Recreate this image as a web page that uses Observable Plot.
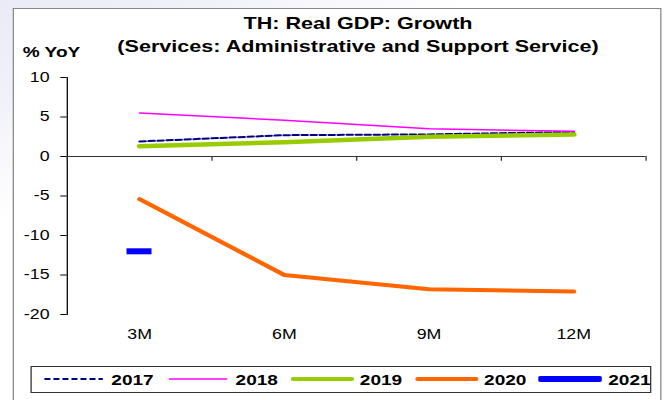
<!DOCTYPE html>
<html><head><meta charset="utf-8">
<script src="https://cdn.jsdelivr.net/npm/d3@7"></script>
<script src="https://cdn.jsdelivr.net/npm/@observablehq/plot@0.6"></script>
<style>
html,body{margin:0;padding:0;overflow:hidden;width:664px;height:400px}
body{background:linear-gradient(155deg,#ebebf7 0px,#f1f1fa 90px,#ffffff 200px)}
#wrap{position:absolute;left:0;top:0;width:523px;height:400px;transform:scaleX(1.2696);transform-origin:0 0;font-family:"Liberation Sans",Arial,sans-serif;color:#000}
#frame{position:absolute;left:10.2px;top:8px;width:511.2px;height:400px;border:1px solid #888;box-sizing:border-box;background:#fff}
#title{position:absolute;left:0;top:12.8px;width:564px;text-align:center;font-weight:bold;font-size:17px;line-height:22.7px;white-space:nowrap}
#ylab{position:absolute;left:17.9px;top:44.3px;font-weight:bold;font-size:15px;line-height:15px;white-space:nowrap}
#chart{position:absolute;left:0;top:60px}
#legend{position:absolute;left:23.6px;top:366px;width:489px;height:26.5px;border:1px solid #333;box-sizing:border-box;display:flex;align-items:center;padding-left:8.4px;font-weight:bold;font-size:15px;background:#fff}
.item{display:flex;align-items:center;margin-right:9.8px}
.item svg{display:block;margin-right:4.7px}
</style>
</head><body>
<div id="wrap">
  <div id="frame"></div>
  <div id="title">TH: Real GDP: Growth<br>(Services: Administrative and Support Service)</div>
  <div id="ylab">% YoY</div>
  <div id="chart"></div>
  <div id="legend"></div>
</div>
<script>
const cats = ["3M", "6M", "9M", "12M"];
const years = ["2017", "2018", "2019", "2020", "2021"];
const v2017 = [1.9, 2.7, 2.8, 3.1];
const v2018 = [5.5, 4.6, 3.5, 3.2];
const v2019 = [1.3, 1.8, 2.5, 2.8];
const v2020 = [-5.4, -15.0, -16.8, -17.1];
const v2021 = [-12.0];
const yTicks = [10, 5, 0, -5, -10, -15, -20];

const colors = ["#000080", "#ff00ff", "#99cc00", "#ff6600", "#0000ff"];
const widths = [2, 1.5, 4.5, 4, 6];
const dashes = ["4.7,2.4", null, null, null, null];

const rows = vals => vals.map((v, i) => ({i, v}));
const bounds = cats.map((c, i) => i - 0.5).concat([cats.length - 0.5]);

const chart = Plot.plot({
  width: 523, height: 290,
  marginTop: 17, marginBottom: 36, marginLeft: 52.5, marginRight: 14.6,
  style: {fontFamily: '"Liberation Sans", Arial, sans-serif', fontSize: "14px", background: "transparent", color: "#000"},
  x: {domain: [-0.5, cats.length - 0.5], ticks: cats.map((c, i) => i), tickFormat: i => cats[i], tickSize: 0, tickPadding: 15, label: null},
  y: {domain: [-20, 10], ticks: yTicks, tickFormat: d => String(d), tickSize: 5, tickPadding: 9, line: true, label: null},
  marks: [
    Plot.ruleY([0], {stroke: "#333"}),
    Plot.ruleX(bounds, {x: d => d, y1: 0, y2: -0.6, stroke: "#333"}),
    Plot.line(rows(v2017), {x: "i", y: "v", stroke: colors[0], strokeWidth: widths[0], strokeDasharray: dashes[0]}),
    Plot.line(rows(v2018), {x: "i", y: "v", stroke: colors[1], strokeWidth: widths[1]}),
    Plot.line(rows(v2019), {x: "i", y: "v", stroke: colors[2], strokeWidth: widths[2], strokeLinecap: "round", strokeLinejoin: "round"}),
    Plot.line(rows(v2020), {x: "i", y: "v", stroke: colors[3], strokeWidth: widths[3], strokeLinecap: "round", strokeLinejoin: "round"}),
    Plot.ruleY(rows(v2021), {y: "v", x1: "i", x2: "i", insetLeft: -9.85, insetRight: -9.85, stroke: colors[4], strokeWidth: widths[4]})
  ]
});
document.getElementById("chart").appendChild(chart);

const legend = d3.select("#legend");
years.forEach((y, k) => {
  const it = legend.append("div").attr("class", "item");
  const svg = it.append("svg").attr("width", 50).attr("height", 10);
  svg.append("line").attr("x1", 2).attr("x2", 48).attr("y1", 5).attr("y2", 5)
    .attr("stroke", colors[k]).attr("stroke-width", k === 4 ? 6 : (k === 1 ? 1.5 : (k === 0 ? 2 : 4)))
    .attr("stroke-linecap", k >= 2 ? "round" : "butt")
    .attr("stroke-dasharray", dashes[k]);
  it.append("span").text(y);
});
</script>
</body></html>
